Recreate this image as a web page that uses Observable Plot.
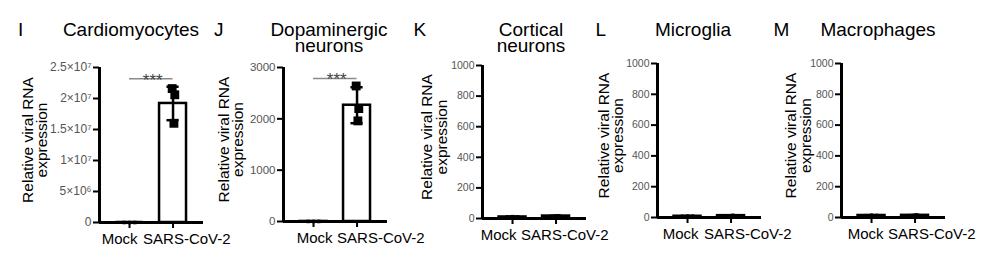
<!DOCTYPE html>
<html>
<head>
<meta charset="utf-8">
<script src="https://cdn.jsdelivr.net/npm/d3@7"></script>
<script src="https://cdn.jsdelivr.net/npm/@observablehq/plot@0.6"></script>
<style>
  body { margin: 0; background: #fff; }
  #fig { position: relative; width: 1006px; height: 278px; overflow: hidden; background: #fff;
         font-family: "Liberation Sans", Arial, sans-serif; }
  .lbl { position: absolute; font-size: 19px; line-height: 16px; white-space: pre; color: #000; }
  .ttl { text-align: center; width: 200px; }
</style>
</head>
<body>
<div id="fig"></div>
<script>
// ---------- data ----------
const groups = ["Mock", "SARS-CoV-2"];
const letters = ["I", "J", "K", "L", "M"];
const titles = ["Cardiomyocytes", "Dopaminergic\nneurons", "Cortical\nneurons", "Microglia", "Macrophages"];
const yAxisLabel = "Relative viral RNA\nexpression";
const yMaxes = [2.5e7, 3000, 1000, 1000, 1000];
const yTicks = [
  [0, 5e6, 1e7, 1.5e7, 2e7, 2.5e7],
  [0, 1000, 2000, 3000],
  [0, 200, 400, 600, 800, 1000],
  [0, 200, 400, 600, 800, 1000],
  [0, 200, 400, 600, 800, 1000]
];
const yTickLabels = [
  ["0", "5×10⁶", "1×10⁷", "1.5×10⁷", "2×10⁷", "2.5×10⁷"],
  ["0", "1000", "2000", "3000"],
  ["0", "200", "400", "600", "800", "1000"],
  ["0", "200", "400", "600", "800", "1000"],
  ["0", "200", "400", "600", "800", "1000"]
];
// replicate values [panel][replicate]
const mockPoints = [[1.3, 0.8, 1.0], [1.2, 0.9, 1.0], [8, 12, 10], [7, 9, 8], [12, 15, 13]];
const sarsPoints = [[2.16e7, 2.06e7, 1.6e7], [2640, 2200, 1960], [14, 18, 15], [11, 14, 10], [13, 16, 14]];
// bar means and SD [panel][group]
const barMeans = [[1, 1.92e7], [1, 2265], [10, 16], [8, 12], [13, 14]];
const barSD = [[0.2, 0.27e7], [0.1, 350], [2, 2], [1, 2], [1.5, 1.5]];
const significance = ["***", "***", null, null, null];
const sigHeights = [2.32e7, 2786, null, null, null];

// ---------- layout (pixels / styling) ----------
const axisX = [99, 282.5, 481.5, 656.5, 840.5];
const yTopPx = [67, 67, 65, 63, 63];
const yZeroPx = [222, 221, 218, 217, 217];
const titleCenter = [131, 329, 531, 693, 878];
const letterLeft = [18, 214, 413.5, 595.5, 773.5];
const yLabelDx = [-64, -52, -47.5, -46, -42.5];
const mockLabelDx = [8, 19, 4, 11, 12];
const sarsLabelDx = [-30, -20, -35, -27, -27];
const repOffset = [[-0.12, 0, 0.12], [-0.02, 0.04, 0.02]];
const tickFont = [12, 11.5, 10.5, 10.5, 10.5];

const fig = document.getElementById("fig");
const X0 = -0.69, X1 = 1.70;
const mL = 92, mR = 20, W = mL + 104 + mR;
const FONT = "Liberation Sans, Arial, sans-serif";

function makePanel(p) {
  const mT = yTopPx[p], mB = 278 - yZeroPx[p];
  const bars = groups.map((g, i) => ({i, g, mean: barMeans[p][i], sd: barSD[p][i]}));
  const caps = bars.flatMap(d => [d.mean - d.sd, d.mean + d.sd].map(y => ({i: d.i, y})));
  const pts = [mockPoints[p], sarsPoints[p]].flatMap((arr, i) => arr.map((v, k) => ({i, k, v})));
  const tickMap = new Map(yTicks[p].map((t, k) => [t, yTickLabels[p][k]]));
  const big = p < 2;
  const marks = [
    Plot.rect(bars, {x1: d => d.i - 0.31, x2: d => d.i + 0.31, y1: d => 0, y2: "mean",
      fill: "white", stroke: "black", strokeWidth: 2.5}),
    Plot.ruleX(bars, {x: "i", y1: d => d.mean - d.sd, y2: d => d.mean + d.sd, stroke: "black", strokeWidth: 2.5}),
    Plot.ruleY(caps, {y: "y", x1: d => d.i - 0.14, x2: d => d.i + 0.14, stroke: "black", strokeWidth: 2.5}),
    Plot.dot(pts.filter(d => d.i === 0), {x: d => d.i + repOffset[0][d.k], y: "v", symbol: "square", r: 2, fill: "black"}),
    Plot.dot(pts.filter(d => d.i === 1), {x: d => d.i + repOffset[1][d.k], y: "v", symbol: "square", r: big ? 5 : 2, fill: "black"}),
    // axes
    Plot.ruleX([X0], {y1: d => 0, y2: d => yMaxes[p], stroke: "black", strokeWidth: 3}),
    Plot.ruleY([0], {x1: d => X0, x2: d => X1, stroke: "black", strokeWidth: 3}),
    Plot.axisY({ticks: yTicks[p], tickSize: 6, strokeWidth: 2, stroke: "black", tickFormat: () => "", label: null}),
    Plot.axisY({ticks: yTicks[p], tickSize: 0, tickPadding: 8, tickFormat: d => tickMap.get(d),
      fontSize: tickFont[p], color: "#555", label: null}),
    Plot.axisX({ticks: [0, 1], tickSize: 6, strokeWidth: 2, stroke: "black", tickFormat: () => "", label: null}),
    Plot.text([{i: 0, t: groups[0]}], {x: "i", y: d => 0, text: "t", textAnchor: "end", lineAnchor: "bottom",
      dy: 21, dx: mockLabelDx[p], fontSize: 15, fill: "black"}),
    Plot.text([{i: 1, t: groups[1]}], {x: "i", y: d => 0, text: "t", textAnchor: "start", lineAnchor: "bottom",
      dy: 21, dx: sarsLabelDx[p], fontSize: 15, fill: "black"}),
    Plot.text([yAxisLabel], {text: d => d, frameAnchor: "left", textAnchor: "middle", rotate: -90,
      dx: yLabelDx[p], dy: -5, fontSize: 15.5, lineHeight: 0.935, fill: "black"})
  ];
  if (significance[p]) {
    marks.push(Plot.ruleY([{y: sigHeights[p]}], {y: "y", x1: d => 0, x2: d => 1, stroke: "#8a8a8a", strokeWidth: 1.5}));
    marks.push(Plot.text([{y: sigHeights[p], t: significance[p]}], {x: d => 0.5, y: "y", text: "t",
      lineAnchor: "bottom", dy: 7, dx: 1.5, fontSize: 17, fill: "#444"}));
  }
  const svg = Plot.plot({
    width: W, height: 278,
    marginLeft: mL, marginRight: mR, marginTop: mT, marginBottom: mB,
    x: {domain: [X0, X1], label: null},
    y: {domain: [0, yMaxes[p]], label: null},
    style: {background: "transparent", fontFamily: FONT, overflow: "visible"},
    marks
  });
  svg.style.position = "absolute";
  svg.style.left = (axisX[p] - mL) + "px";
  svg.style.top = "0px";
  svg.style.maxWidth = "none";
  fig.appendChild(svg);

  const letter = document.createElement("div");
  letter.className = "lbl";
  letter.style.left = letterLeft[p] + "px";
  letter.style.top = "22.4px";
  letter.textContent = letters[p];
  fig.appendChild(letter);

  const title = document.createElement("div");
  title.className = "lbl ttl";
  title.style.left = (titleCenter[p] - 100) + "px";
  title.style.top = "22.4px";
  title.textContent = titles[p];
  fig.appendChild(title);
}

for (let p = 0; p < 5; p++) makePanel(p);
</script>
</body>
</html>
